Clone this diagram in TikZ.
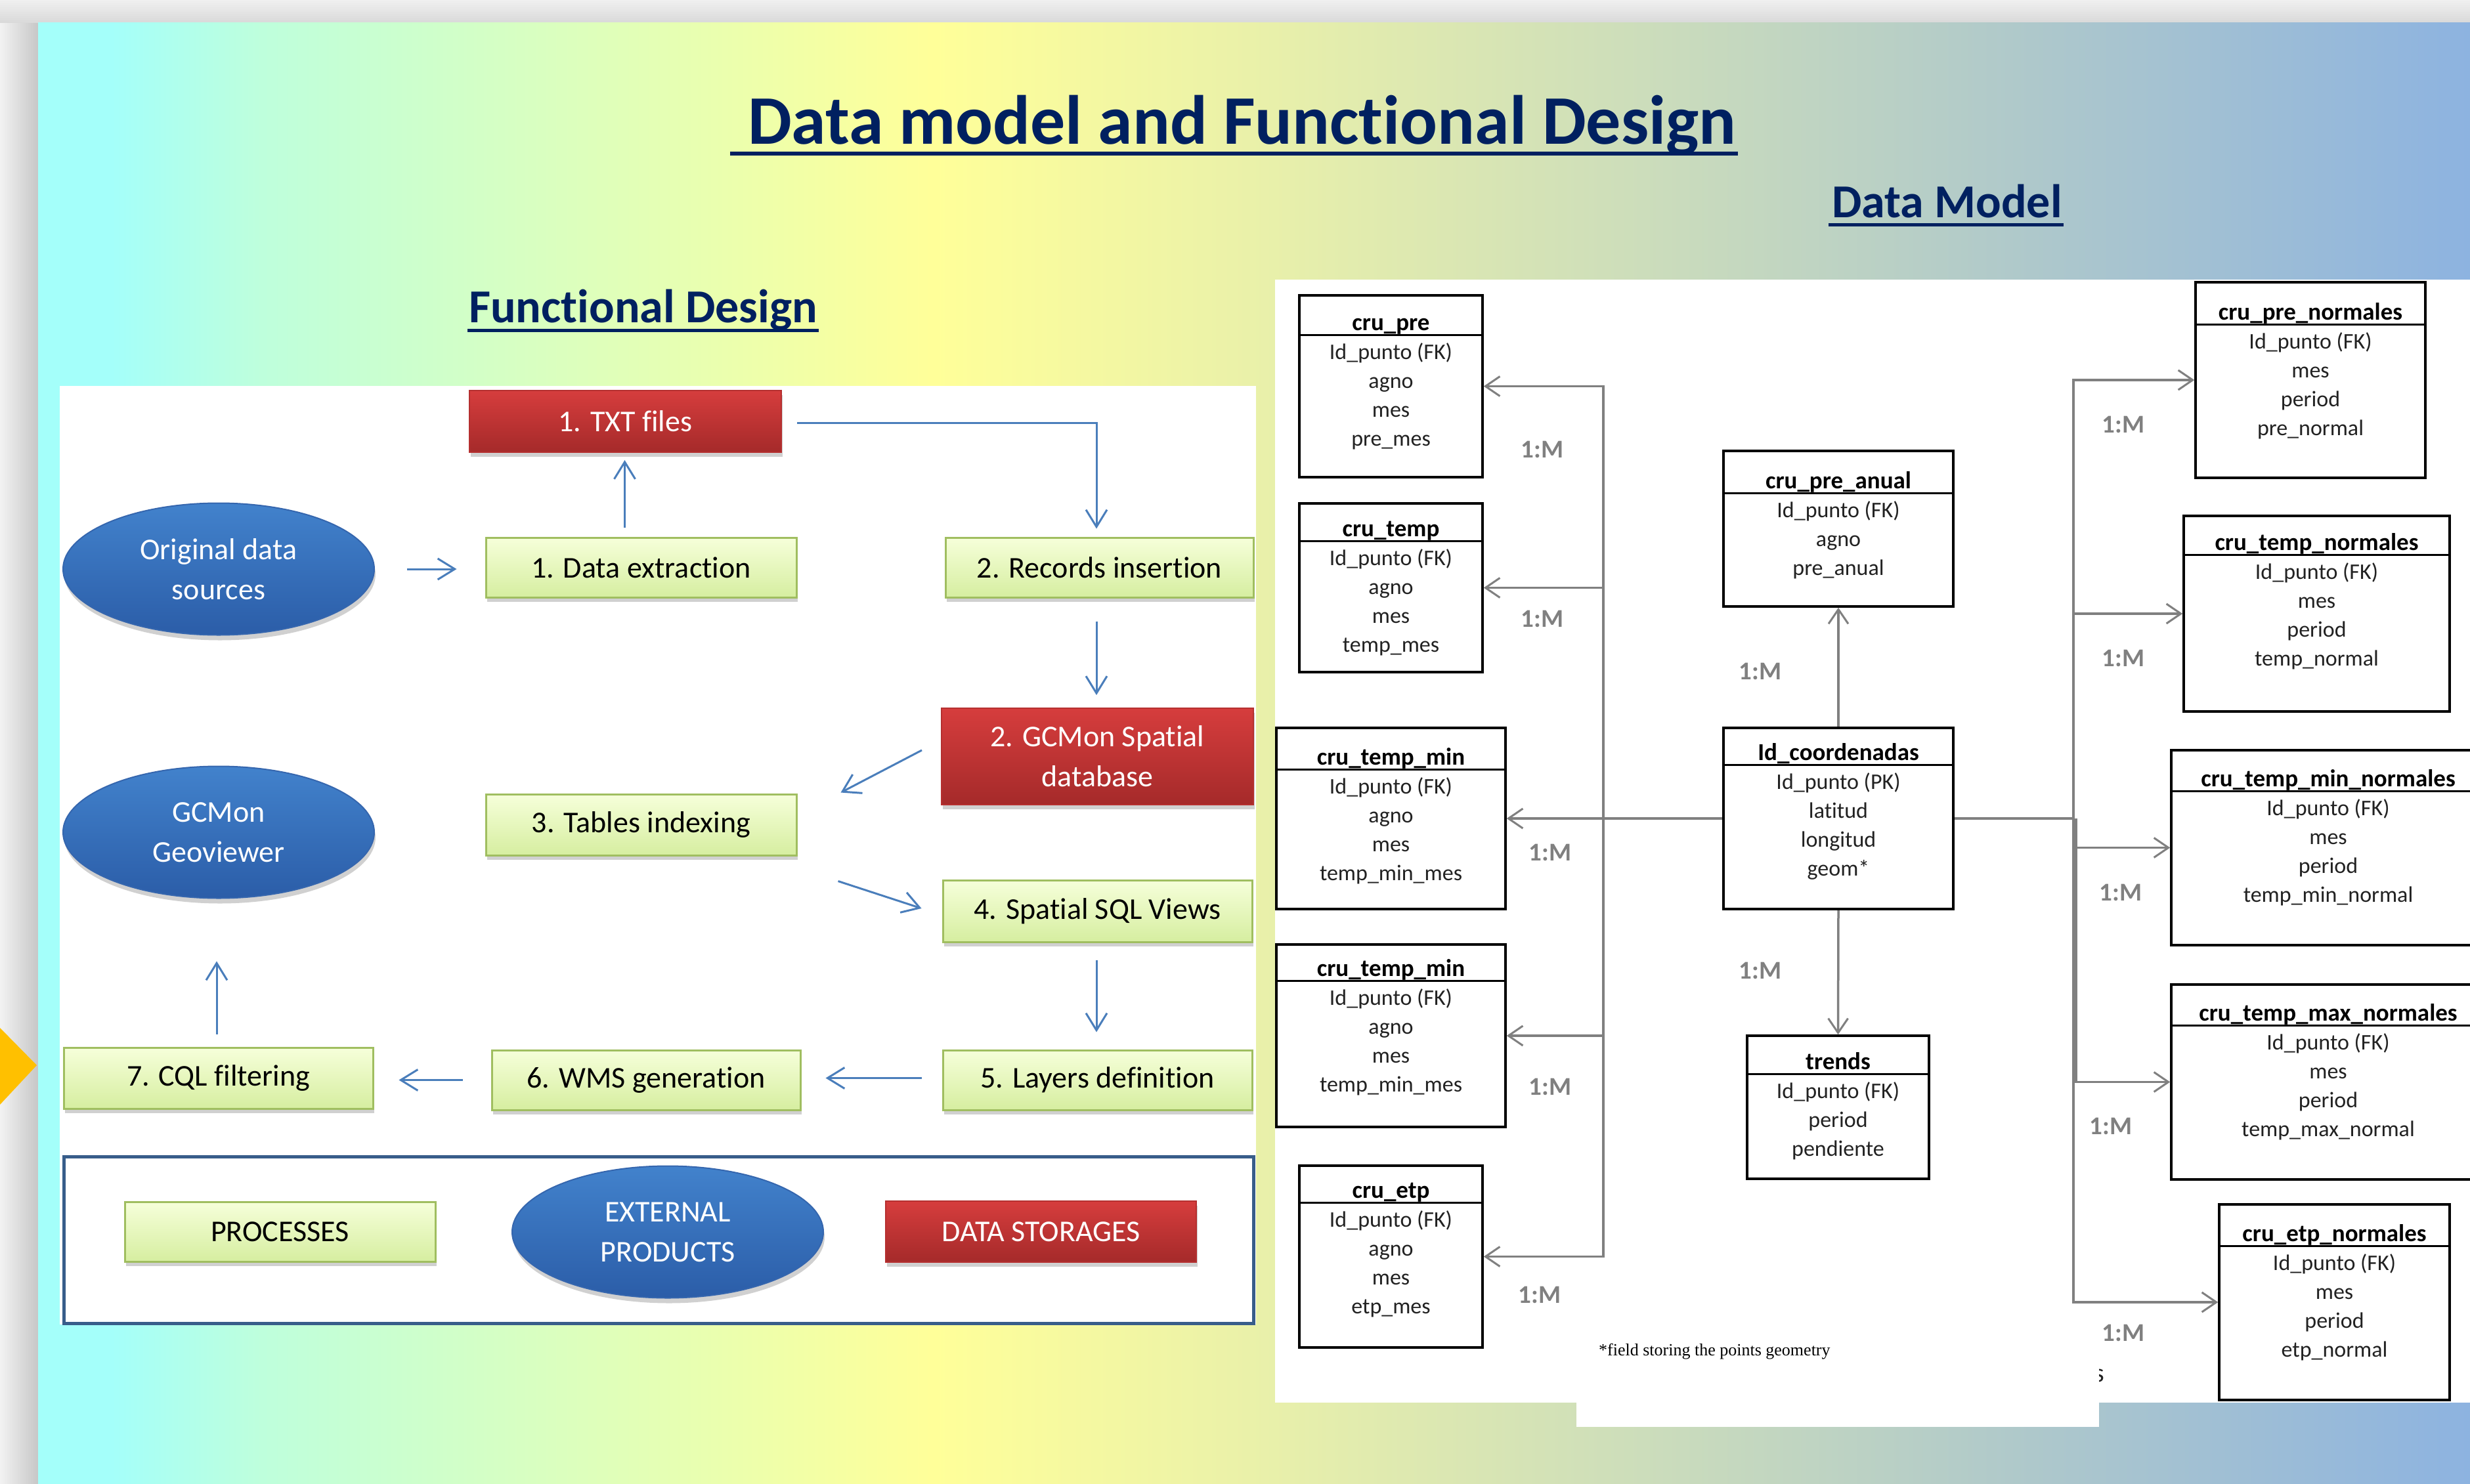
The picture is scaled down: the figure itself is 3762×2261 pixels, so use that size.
\documentclass[tikz,border=0pt]{standalone}
\usepackage{fontspec}
\setmainfont{Carlito}[Ligatures=NoCommon]
\newfontfamily\footfont{Liberation Serif}
\usetikzlibrary{arrows.meta,shapes.geometric,shadows,fit,calc}

\definecolor{bgA}{HTML}{A4FFFA}
\definecolor{bgB}{HTML}{BEFFDC}
\definecolor{bgC}{HTML}{FFFF99}
\definecolor{bgD}{HTML}{EAF1A9}
\definecolor{bgE}{HTML}{CCDDBB}
\definecolor{bgF}{HTML}{AEC8CB}
\definecolor{bgG}{HTML}{8DB3E0}
\definecolor{navy}{HTML}{002060}
\definecolor{gTop}{HTML}{F6FFDA}
\definecolor{gBot}{HTML}{D6EEA0}
\definecolor{gBorder}{HTML}{A0BE60}
\definecolor{rTop}{HTML}{D63D3D}
\definecolor{rBot}{HTML}{A52A2A}
\definecolor{rBorder}{HTML}{B53030}
\definecolor{eTop}{HTML}{4282CC}
\definecolor{eBot}{HTML}{2B5DA8}
\definecolor{eBorder}{HTML}{3566AE}
\definecolor{fdblue}{HTML}{4A7EBB}
\definecolor{legBorder}{HTML}{385D8A}
\definecolor{dmgray}{HTML}{808080}
\definecolor{fieldc}{HTML}{222222}
\definecolor{orangeA}{HTML}{FFC000}

\pgfdeclarehorizontalshading{slidebg}{100bp}{color(0bp)=(bgA); color(25bp)=(bgA); color(26.5bp)=(bgA); color(29.6bp)=(bgB); color(43.4bp)=(bgC); color(49.9bp)=(bgD); color(58bp)=(bgE); color(66bp)=(bgF); color(75bp)=(bgG); color(100bp)=(bgG)}

\newcommand\fdfont{\fontsize{46}{61}\selectfont}
\newcommand\dmtable[8]{%
  \node[tblbox, fit={(#2,#3) (#4,#5)}] (#1) {};
  \draw[tblline] (#2,#6) -- (#4,#6);
  \node[tbltitle] (#1-t) at ({(#2+#4)/2},{#6-7}) {#7};
  \foreach \f [count=\i] in {#8}
    \node[tblfield] (#1-f\i) at ({(#2+#4)/2},{#6+37+44*(\i-1)}) {\f};
}

\begin{document}
\begin{tikzpicture}[x=1pt,y=-1pt,
  gbox/.style={rectangle, draw=gBorder, line width=3pt, top color=gTop, bottom color=gBot,
    text=black, font=\fdfont, inner sep=0pt, align=center,
    drop shadow={shadow xshift=2pt, shadow yshift=-7pt, opacity=0.3, fill=black!60}},
  rbox/.style={rectangle, draw=rBorder, line width=2pt, top color=rTop, bottom color=rBot,
    text=white, font=\fdfont, inner sep=0pt, align=center,
    drop shadow={shadow xshift=2pt, shadow yshift=-7pt, opacity=0.3, fill=black!60}},
  bell/.style={ellipse, draw=eBorder, line width=2pt, top color=eTop, bottom color=eBot,
    text=white, font=\fdfont, inner sep=0pt, align=center,
    minimum width=474pt, minimum height=201pt,
    drop shadow={shadow xshift=2pt, shadow yshift=-8pt, opacity=0.3, fill=black!60}},
  fdarr/.style={draw=fdblue, line width=3pt, -{Straight Barb[length=26pt,width=32pt]}},
  dmline/.style={draw=dmgray, line width=3.5pt},
  dmarr/.style={dmline, -{Straight Barb[length=22pt,width=30pt,line width=3pt]}},
  tblbox/.style={rectangle, draw=black, line width=3.5pt, inner sep=0pt},
  tblline/.style={draw=black, line width=3pt},
  tbltitle/.style={anchor=base, font=\bfseries\fontsize{37}{44}\selectfont, text=black, inner sep=0pt},
  tblfield/.style={anchor=base, font=\fontsize{34}{40}\selectfont, text=fieldc, inner sep=0pt},
  mlabel/.style={font=\bfseries\fontsize{39}{44}\selectfont, text=dmgray, inner sep=0pt},
  heading/.style={anchor=base west, text=navy, inner sep=0pt},
  uline/.style={draw=navy}
]
\useasboundingbox (0,0) rectangle (3762,2261);

% ---------- background ----------
\fill[black!7] (0,0) rectangle (3762,2261);
\shade[left color=black!5, right color=black!22] (0,35) rectangle (58,2261);
\shade[top color=black!6, bottom color=black!15] (0,0) rectangle (3762,35);
\shade[shading=slidebg] (58,35) rectangle (3762,2261);
\fill[orangeA] (0,1566) -- (56,1623) -- (0,1683) -- cycle;

% white panels
\fill[white] (91,588) rectangle (1913,2018);
\fill[white] (1942,426) rectangle (3762,2137);
\fill[white] (2401,2130) rectangle (3197,2174);

% ---------- headings ----------
\node[heading, font=\bfseries\fontsize{106}{120}\selectfont] (title) at (1139,220) {Data model and Functional Design};
\draw[uline, line width=6pt] ($(title.base west)+(-27,14)$) -- ($(title.base east)+(3,14)$);
\node[heading, font=\bfseries\fontsize{72}{84}\selectfont] (dmhead) at (2790,331) {Data Model};
\draw[uline, line width=5pt] ($(dmhead.base west)+(-5,11)$) -- ($(dmhead.base east)+(2,11)$);
\node[heading, font=\bfseries\fontsize{72}{84}\selectfont] (fdhead) at (714,491) {Functional Design};
\draw[uline, line width=5pt] ($(fdhead.base west)+(-2,12)$) -- ($(fdhead.base east)+(2,12)$);

% ---------- functional design ----------
\node[rbox, minimum width=475pt, minimum height=94pt] (txt) at (952.5,642) {1. TXT files};
\node[gbox, minimum width=473pt, minimum height=91pt] (dext) at (976.5,864.5) {1. Data extraction};
\node[gbox, minimum width=469pt, minimum height=91pt] (recs) at (1674.5,864.5) {2. Records insertion};
\node[bell] (orig) at (333,867) {Original data\\sources};
\node[rbox, minimum width=475pt, minimum height=147pt] (gdb) at (1671.5,1152.5) {2. GCMon Spatial\\database};
\node[gbox, minimum width=473pt, minimum height=93pt] (tidx) at (976.5,1256.5) {3. Tables indexing};
\node[bell] (geov) at (333,1268) {GCMon\\Geoviewer};
\node[gbox, minimum width=471pt, minimum height=94pt] (sqlv) at (1671.5,1388) {4. Spatial SQL Views};
\node[gbox, minimum width=471pt, minimum height=91pt] (layers) at (1671.5,1645.5) {5. Layers definition};
\node[gbox, minimum width=470pt, minimum height=91pt] (wms) at (984,1645.5) {6. WMS generation};
\node[gbox, minimum width=471pt, minimum height=93pt] (cql) at (332.5,1642.5) {7. CQL filtering};

\draw[fdarr, shorten <=49pt, shorten >=43pt] (orig.east) -- (orig.east -| dext.west);
\draw[fdarr, shorten <=14pt, shorten >=11pt] ($(dext.north)+(-25,0)$) -- ($(dext.north |- txt.south)+(-25,0)$);
\draw[fdarr, shorten <=23pt, shorten >=12pt] ($(txt.east)+(0,2)$) -| ($(recs.north)+(-4.5,0)$);
\draw[fdarr, shorten <=35pt, shorten >=19pt] ($(recs.south)+(-4.5,0)$) -- ($(recs.south |- gdb.north)+(-4.5,0)$);
\draw[fdarr] ($(gdb.west)+(-29,-9.5)$) -- ($(tidx.north east)+(66,-1)$);
\draw[fdarr] ($(tidx.south east)+(62,38)$) -- ($(sqlv.west)+(-31,-4)$);
\draw[fdarr, shorten <=26pt, shorten >=26pt] ($(sqlv.south)+(-1.5,0)$) -- ($(layers.north)+(-1.5,0)$);
\draw[fdarr, shorten <=31pt, shorten >=37pt] ($(layers.west)+(0,-3)$) -- ($(layers.west -| wms.east)+(0,-3)$);
\draw[fdarr, shorten <=43pt, shorten >=38pt] (wms.west) -- (wms.west -| cql.east);
\draw[fdarr, shorten <=19pt, shorten >=95pt] ($(cql.north)+(-2.5,0)$) -- ($(cql.north |- geov.south)+(-2.5,0)$);

% legend
\node[draw=legBorder, line width=5pt, inner sep=0pt, fit={(97,1762) (1909,2016)}] (legend) {};
\node[gbox, minimum width=473pt, minimum height=91pt] (proc) at (426.5,1876.5) {PROCESSES};
\node[bell] (extp) at (1017,1877) {EXTERNAL\\PRODUCTS};
\node[rbox, minimum width=473pt, minimum height=93pt] (dstore) at (1585.5,1876.5) {DATA STORAGES};

% ---------- data model ----------
\dmtable{cpre}{1979}{450}{2258}{727}{510}{cru\_pre}{Id\_punto (FK),agno,mes,pre\_mes}
\dmtable{ctemp}{1979}{767}{2258}{1024}{824}{cru\_temp}{Id\_punto (FK),agno,mes,temp\_mes}
\dmtable{ctmina}{1944}{1109}{2293}{1385}{1172}{cru\_temp\_min}{Id\_punto (FK),agno,mes,temp\_min\_mes}
\dmtable{ctminb}{1944}{1439}{2293}{1717}{1494}{cru\_temp\_min}{Id\_punto (FK),agno,mes,temp\_min\_mes}
\dmtable{cetp}{1979}{1776}{2258}{2053}{1832}{cru\_etp}{Id\_punto (FK),agno,mes,etp\_mes}
\dmtable{cpa}{2625}{687}{2975}{924}{751}{cru\_pre\_anual}{Id\_punto (FK),agno,pre\_anual}
\dmtable{idc}{2625}{1109}{2975}{1385}{1165}{Id\_coordenadas}{Id\_punto (PK),latitud,longitud,geom*}
\dmtable{trends}{2661}{1578}{2938}{1796}{1636}{trends}{Id\_punto (FK),period,pendiente}
\dmtable{cpn}{3344}{430}{3694}{728}{494}{cru\_pre\_normales}{Id\_punto (FK),mes,period,pre\_normal}
\dmtable{ctn}{3326}{786}{3731}{1084}{845}{cru\_temp\_normales}{Id\_punto (FK),mes,period,temp\_normal}
\dmtable{ctminn}{3307}{1143}{3785}{1440}{1205}{cru\_temp\_min\_normales}{Id\_punto (FK),mes,period,temp\_min\_normal}
\dmtable{ctmaxn}{3307}{1500}{3785}{1797}{1562}{cru\_temp\_max\_normales}{Id\_punto (FK),mes,period,temp\_max\_normal}
\dmtable{cetpn}{3380}{1835}{3731}{2133}{1898}{cru\_etp\_normales}{Id\_punto (FK),mes,period,etp\_normal}

\coordinate (lj) at (2442,1247);
\coordinate (rj) at (3158,1247);
\draw[dmarr] (idc.west) -- (ctmina.east);
\draw[dmarr] (lj) |- (cpre.east);
\draw[dmarr] (lj) |- (ctemp.east);
\draw[dmarr] (lj) |- (ctminb.east);
\draw[dmarr] (lj) |- (cetp.east);
\draw[dmline] (idc.east) -- (rj);
\draw[dmarr] (rj) |- (cpn.west);
\draw[dmarr] (rj) |- (ctn.west);
\draw[dmarr] (rj) |- (ctminn.west);
\draw[dmarr] (rj) |- (ctmaxn.west);
\draw[dmarr] (rj) |- (cetpn.west);
\draw[dmline] ($(rj)+(4,0)$) -- ($(rj |- ctmaxn.west)+(4,0)$);
\draw[dmarr] (idc.north) -- (cpa.south);
\draw[dmarr] (idc.south) -- (trends.north);

\node[mlabel] (m1) at (2349,685) {1:M};
\node[mlabel] (m2) at (2349,943) {1:M};
\node[mlabel] (m3) at (2361,1299) {1:M};
\node[mlabel] (m4) at (2361,1656) {1:M};
\node[mlabel] (m5) at (2345,1973) {1:M};
\node[mlabel] (m6) at (2681,1023) {1:M};
\node[mlabel] (m7) at (2681,1479) {1:M};
\node[mlabel] (m8) at (3234,647) {1:M};
\node[mlabel] (m9) at (3234,1003) {1:M};
\node[mlabel] (m10) at (3230,1360) {1:M};
\node[mlabel] (m11) at (3215,1716) {1:M};
\node[mlabel] (m12) at (3234,2031) {1:M};

\node[anchor=base west, inner sep=0pt, font=\footfont\fontsize{26}{30}\selectfont] (foot) at (2435,2065) {*field storing the points geometry};

\begin{scope}
  \clip (3197,2060) rectangle (3240,2120);
  \node[anchor=base, inner sep=0pt, text=fieldc, font=\fontsize{40}{44}\selectfont] (sfrag) at (3197,2105) {s};
\end{scope}
\end{tikzpicture}
\end{document}
